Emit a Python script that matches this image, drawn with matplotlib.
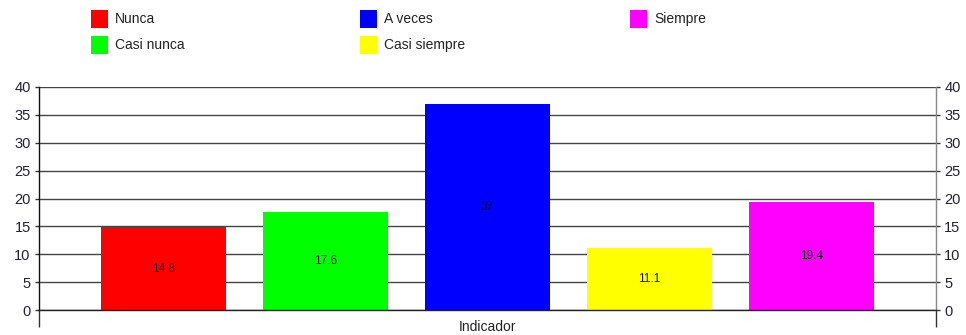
import matplotlib
matplotlib.use("Agg")
import matplotlib.pyplot as plt
from matplotlib.patches import Rectangle

plt.rcParams['font.family'] = ['Liberation Sans', 'DejaVu Sans']

categories = ['Nunca', 'Casi nunca', 'A veces', 'Casi siempre', 'Siempre']
values = [14.8, 17.6, 37, 11.1, 19.4]
colors = ['#ff0000', '#00ff00', '#0000ff', '#ffff00', '#ff00ff']
value_labels = ['14.8', '17.6', '37', '11.1', '19.4']
yticks = [0, 5, 10, 15, 20, 25, 30, 35, 40]
xlabel = 'Indicador'

fig = plt.figure(figsize=(9.66, 3.35), dpi=100)
ax = fig.add_axes([39 / 966, 1 - 310 / 335, 897 / 966, 223 / 335])

pos = list(range(len(categories)))
bars = ax.bar(pos, values, width=0.7716, color=colors, edgecolor='none', zorder=2)

# value labels sit in the middle of each bar
for b, txt in zip(bars, value_labels):
    ax.text(b.get_x() + b.get_width() / 2, b.get_height() / 2, txt,
            ha='center', va='center', fontsize=8.5, color='#111111', zorder=3)

ax.set_xlim(-0.7685, 4.7685)
ax.set_ylim(0, 40)
ax.set_yticks(yticks)
ax.yaxis.grid(True, color='#444444', linewidth=1, zorder=1)
ax.set_axisbelow(True)

# category axis: only the edge ticks, hanging below the baseline
ax.set_xticks([-0.7685, 4.7685])
ax.set_xticklabels(['', ''])
ax.tick_params(axis='x', direction='out', length=12.5, width=1, color='#333333')
ax.text(0.5, -0.075, xlabel, transform=ax.transAxes, ha='center', va='center',
        fontsize=10, color='#222222')

ax.tick_params(axis='y', direction='out', length=3, width=1, labelsize=10.5,
               labelcolor='#222233', color='#333333', left=True, right=True,
               labelleft=True, labelright=True, pad=3)

ax.spines['top'].set_visible(False)
ax.spines['left'].set_color('#111111')
ax.spines['right'].set_color('#888888')
ax.spines['bottom'].set_color('#222222')
for s in ax.spines.values():
    s.set_linewidth(1)

# legend: three columns filled top to bottom
col_x = [91, 360, 630]
row_y = [10, 36]
for i, (name, c) in enumerate(zip(categories, colors)):
    col, row = divmod(i, 2)
    x0, y0 = col_x[col], row_y[row]
    fig.add_artist(Rectangle((x0 / 966, 1 - (y0 + 18) / 335), 17 / 966, 18 / 335,
                             transform=fig.transFigure, facecolor=c,
                             edgecolor='none'))
    fig.text((x0 + 24) / 966, 1 - (y0 + 9) / 335, name, ha='left', va='center',
             fontsize=10, color='#222222')

fig.savefig('out.png', dpi=100)
